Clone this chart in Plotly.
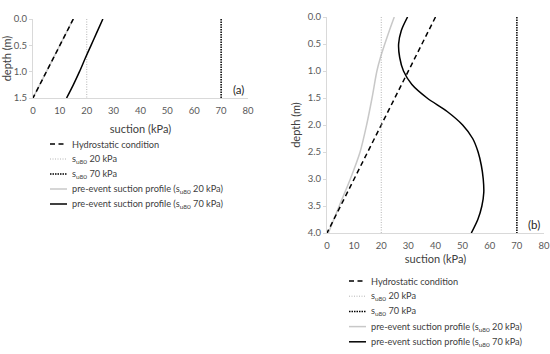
import plotly.graph_objects as go

# ---- data ----
# panel (a)
a_hydro_depth = [0.0, 1.5]
a_hydro_suction = [15, 0]
a_pre20_depth = [0.0, 1.5]
a_pre20_suction = [15, 0]
a_pre70_depth = [0.0, 0.25, 0.5, 0.75, 1.0, 1.25, 1.5]
a_pre70_suction = [26.0, 23.8, 21.6, 19.4, 17.3, 15.0, 12.5]
a_depth_range = [0.0, 1.5]

# panel (b)
b_hydro_depth = [0.0, 4.0]
b_hydro_suction = [40, 0]
b_pre20_depth = [0.0, 0.25, 0.5, 0.75, 1.0, 1.5, 2.0, 2.5, 3.0, 3.5, 4.0]
b_pre20_suction = [24.8, 23.0, 21.3, 19.7, 18.4, 16.6, 14.6, 12.2, 8.6, 4.5, 0.5]
b_pre70_depth = [0.0, 0.25, 0.5, 0.75, 1.0, 1.25, 1.5, 1.75, 2.0, 2.25, 2.5,
                 2.75, 3.0, 3.25, 3.5, 3.75, 4.0]
b_pre70_suction = [29.7, 27.4, 26.4, 26.8, 28.2, 31.3, 36.9, 44.3, 50.0, 53.7, 55.7,
                   56.9, 57.6, 57.8, 57.1, 55.6, 53.2]
b_depth_range = [0.0, 4.0]

su80_values = [20, 70]
x_ticks = [0, 10, 20, 30, 40, 50, 60, 70, 80]
a_y_ticks = [0.0, 0.5, 1.0, 1.5]
b_y_ticks = [0.0, 0.5, 1.0, 1.5, 2.0, 2.5, 3.0, 3.5, 4.0]

names = ["Hydrostatic condition",
         "s<sub>u80</sub> 20 kPa",
         "s<sub>u80</sub> 70 kPa",
         "pre-event suction profile (s<sub>u80</sub> 20 kPa)",
         "pre-event suction profile (s<sub>u80</sub> 70 kPa)"]

W, H = 550, 354
FONT = "Lato"

# styles per legend entry (order as in names)
styles = [
    dict(color="black", width=1.5, dash="5px,3.5px"),
    dict(color="#b4b4b4", width=1, dash="1px,1.5px"),
    dict(color="black", width=1.5, dash="1.5px,1px"),
    dict(color="#c8c8c8", width=1.5),
    dict(color="black", width=1.5),
]

fig = go.Figure()

def add_panel(xa, ya, hyd_s, hyd_d, p20_s, p20_d, p70_s, p70_d, drange):
    fig.add_trace(go.Scatter(x=p20_s, y=p20_d, mode="lines", xaxis=xa, yaxis=ya,
                             line=dict(**styles[3], shape="spline", smoothing=0.8),
                             name=names[3], showlegend=False))
    fig.add_trace(go.Scatter(x=hyd_s, y=hyd_d, mode="lines", xaxis=xa, yaxis=ya,
                             line=styles[0], name=names[0], showlegend=False))
    fig.add_trace(go.Scatter(x=[su80_values[0]] * 2, y=drange, mode="lines", xaxis=xa, yaxis=ya,
                             line=styles[1], name=names[1], showlegend=False))
    fig.add_trace(go.Scatter(x=[su80_values[1]] * 2, y=drange, mode="lines", xaxis=xa, yaxis=ya,
                             line=styles[2], name=names[2], showlegend=False))
    fig.add_trace(go.Scatter(x=p70_s, y=p70_d, mode="lines", xaxis=xa, yaxis=ya,
                             line=dict(**styles[4], shape="spline", smoothing=0.8),
                             name=names[4], showlegend=False))

add_panel("x", "y", a_hydro_suction, a_hydro_depth, a_pre20_suction, a_pre20_depth,
          a_pre70_suction, a_pre70_depth, a_depth_range)
add_panel("x2", "y2", b_hydro_suction, b_hydro_depth, b_pre20_suction, b_pre20_depth,
          b_pre70_suction, b_pre70_depth, b_depth_range)

tickfont = dict(family=FONT, size=9.5, color="#595959")
titlefont = dict(family=FONT, size=11, color="#404040")

def xaxis(dom, anchor, standoff):
    return dict(domain=dom, anchor=anchor, range=[0, 80], tickvals=x_ticks, showgrid=False,
                zeroline=False, showline=True, linecolor="#d9d9d9", linewidth=1,
                tickfont=tickfont, ticks="outside", ticklen=4, tickcolor="rgba(0,0,0,0)",
                automargin=False,
                title=dict(text="suction (kPa)", font=titlefont, standoff=standoff))

def yaxis(dom, anchor, rng, tv):
    return dict(domain=dom, anchor=anchor, range=rng, tickvals=tv, tickformat=".1f",
                showgrid=False, zeroline=False, showline=True, linecolor="#d9d9d9", linewidth=1,
                ticks="outside", ticklen=3, tickcolor="#d9d9d9", tickfont=tickfont,
                automargin=False,
                title=dict(text="depth (m)", font=titlefont, standoff=4))

# manual legends (layout only; entries mirror the traces' names and styles)
shapes, annotations = [], []
legfont = dict(family=FONT, size=9.2, color="#404040")
for (lx, ly, dy) in [(50, 144, 15.0), (349, 281, 15.2)]:
    for i, (nm, st) in enumerate(zip(names, styles)):
        yy = 1 - (ly + i * dy) / H
        shapes.append(dict(type="line", xref="paper", yref="paper",
                           x0=lx / W, x1=(lx + 17) / W, y0=yy, y1=yy, line=st))
        annotations.append(dict(text=nm, xref="paper", yref="paper", x=(lx + 20) / W, y=yy,
                                xanchor="left", yanchor="middle", showarrow=False, font=legfont))

annotations += [
    dict(text="(a)", x=80, y=1.5, xref="x", yref="y", xanchor="right", yanchor="bottom",
         xshift=-2, showarrow=False, font=dict(family=FONT, size=11.5, color="#262626")),
    dict(text="(b)", x=80, y=4.0, xref="x2", yref="y2", xanchor="right", yanchor="bottom",
         xshift=-2, showarrow=False, font=dict(family=FONT, size=11.5, color="#262626")),
]

fig.update_layout(
    width=W, height=H, margin=dict(l=0, r=0, t=0, b=0),
    paper_bgcolor="white", plot_bgcolor="white", showlegend=False,
    xaxis=xaxis([33 / W, 248 / W], "y", 9),
    yaxis=yaxis([1 - 98 / H, 1 - 19 / H], "x", [1.5, 0.0], a_y_ticks),
    xaxis2=xaxis([327 / W, 544 / W], "y2", 4),
    yaxis2=yaxis([1 - 233 / H, 1 - 17 / H], "x2", [4.0, 0.0], b_y_ticks),
    shapes=shapes, annotations=annotations,
)

fig.write_html("out.html", config={"displayModeBar": False},
               post_script="document.body.style.margin='0';")
